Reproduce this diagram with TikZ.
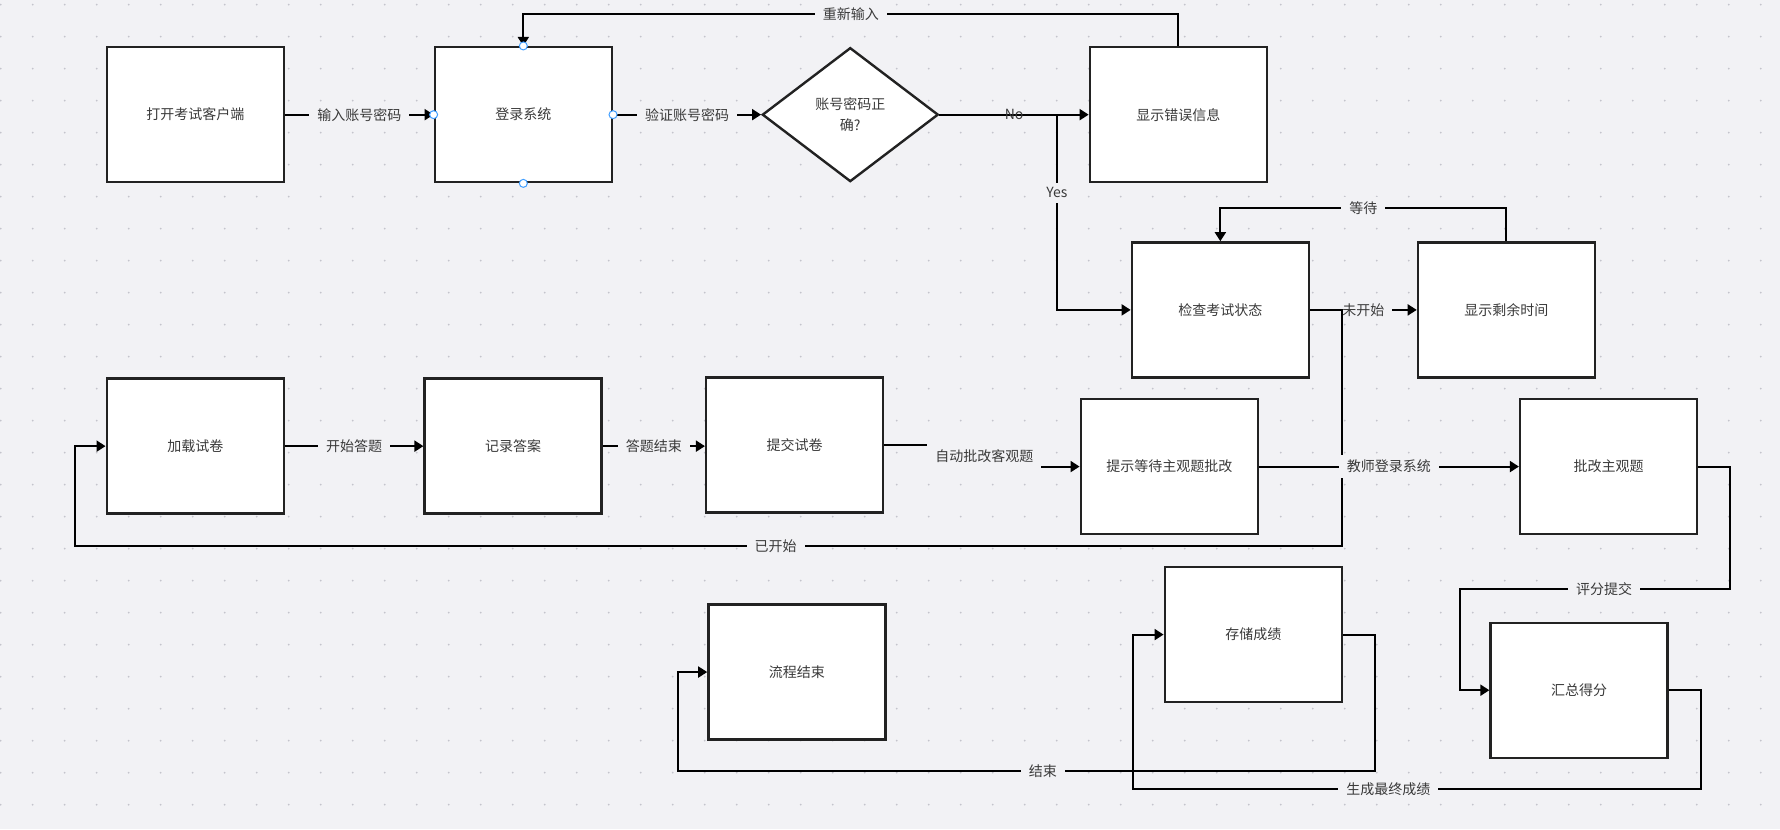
\documentclass[tikz,border=0pt]{standalone}
\usepackage{fontspec}
\setmainfont{Noto Sans CJK SC}
\usepackage{tikz}
\usetikzlibrary{shapes.geometric, arrows.meta, positioning}
\definecolor{canvasgray}{RGB}{242,242,245}
\definecolor{griddot}{RGB}{196,196,204}
\definecolor{boxline}{RGB}{34,34,34}
\definecolor{labeltext}{RGB}{58,58,58}
\definecolor{handleblue}{RGB}{64,158,255}

\begin{document}
\begin{tikzpicture}[
    x=1.1352pt, y=-1.1352pt,
    stepbox/.style={draw=boxline, line width=2.4pt, fill=white, minimum width=177pt, minimum height=135pt, inner sep=0pt, font=\fontsize{14}{18}\selectfont, text=labeltext},
    decision/.style={draw=boxline, line width=2.4pt, fill=white, diamond, minimum width=176pt, minimum height=134pt, inner sep=0pt, align=center, font=\fontsize{14}{21}\selectfont, text=labeltext},
    flow/.style={draw=black, line width=1.9pt, -{Triangle[length=9pt, width=11pt]}},
    lbl/.style={fill=canvasgray, font=\fontsize{14}{18}\selectfont, text=labeltext, inner xsep=8pt, inner ysep=5pt},
    handle/.style={circle, draw=handleblue, fill=white, line width=1pt, minimum size=8pt, inner sep=0pt}
]
    % Canvas
    \useasboundingbox (0,0) rectangle (1568,730.3);
    \fill[canvasgray] (0,0) rectangle (1568,730.3);
    \foreach \i in {0,...,55} {
        \foreach \j in {0,...,25} {
            \fill[griddot] ({0.6+28.19*\i},{4.1+28.19*\j}) circle (1pt);
        }
    }

    % Login row
    \node[stepbox] (client) at (172,101) {打开考试客户端};
    \node[stepbox] (login) at (461,101) {登录系统};
    \node[decision] (verify) at (749,101) {账号密码正\\确?};
    \node[stepbox] (error) at (1038,101) {显示错误信息};

    % Exam state row
    \node[stepbox] (check) at (1075,273) {检查考试状态};
    \node[stepbox] (remain) at (1327,273) {显示剩余时间};

    % Answer row
    \node[stepbox] (load) at (172,393) {加载试卷};
    \node[stepbox] (record) at (452,393) {记录答案};
    \node[stepbox] (submit) at (700,392) {提交试卷};
    \node[stepbox] (waitsub) at (1030,411) {提示等待主观题批改};
    \node[stepbox] (grade) at (1417,411) {批改主观题};

    % Result row
    \node[stepbox] (total) at (1391,608) {汇总得分};
    \node[stepbox] (store) at (1104,559) {存储成绩};
    \node[stepbox] (finish) at (702,592) {流程结束};

    % Login flow
    \draw[flow] (client) -- node[lbl] {输入账号密码} (login);
    \draw[flow] (login) -- node[lbl] {验证账号密码} (verify);
    \draw[flow] (verify) -- node[font=\fontsize{14}{18}\selectfont, text=labeltext] {No} (error);
    \coordinate (yesfork) at (931,101);
    \draw[flow] (yesfork) |- node[lbl, pos=0.2] {Yes} (check);
    \draw[flow] (error.north) -- ++(0,-28) -| node[lbl, pos=0.25] {重新输入} (login.north);

    % Exam state
    \draw[flow] (check) -- node[lbl] {未开始} (remain);
    \draw[flow] (remain.north) -- ++(0,-29) -| node[lbl, pos=0.25] {等待} (check.north);
    \draw[flow] (check.east) -- ++(28,0) -- ++(0,208) -- node[lbl, pos=0.447] {已开始} ++(-1116,0) |- (load.west);

    % Answering
    \draw[flow] (load) -- node[lbl] {开始答题} (record);
    \draw[flow] (record.east) -- node[lbl] {答题结束} (record.east -| submit.west);
    \draw[flow] (submit.east) -- ++(88,0) |- node[lbl, pos=0.25, inner ysep=7.5pt] {自动批改客观题} (waitsub.west);
    \draw[flow] (waitsub) -- node[lbl] {教师登录系统} (grade);

    % Grading and results
    \draw[flow] (grade.east) -- ++(28,0) -- ++(0,108) -- node[lbl, pos=0.466] {评分提交} ++(-238,0) |- (total.west);
    \draw[flow] (total.east) -- ++(28,0) -- ++(0,87) -- node[lbl, pos=0.55] {生成最终成绩} ++(-500,0) |- (store.west);
    \draw[flow] (store.east) -- ++(28,0) -- ++(0,120) -- node[lbl, pos=0.476] {结束} ++(-614,0) |- (finish.west);

    % Selection handles
    \foreach \side in {north,south,east,west}
        \node[handle] (login-\side) at (login.\side) {};
\end{tikzpicture}
\end{document}
